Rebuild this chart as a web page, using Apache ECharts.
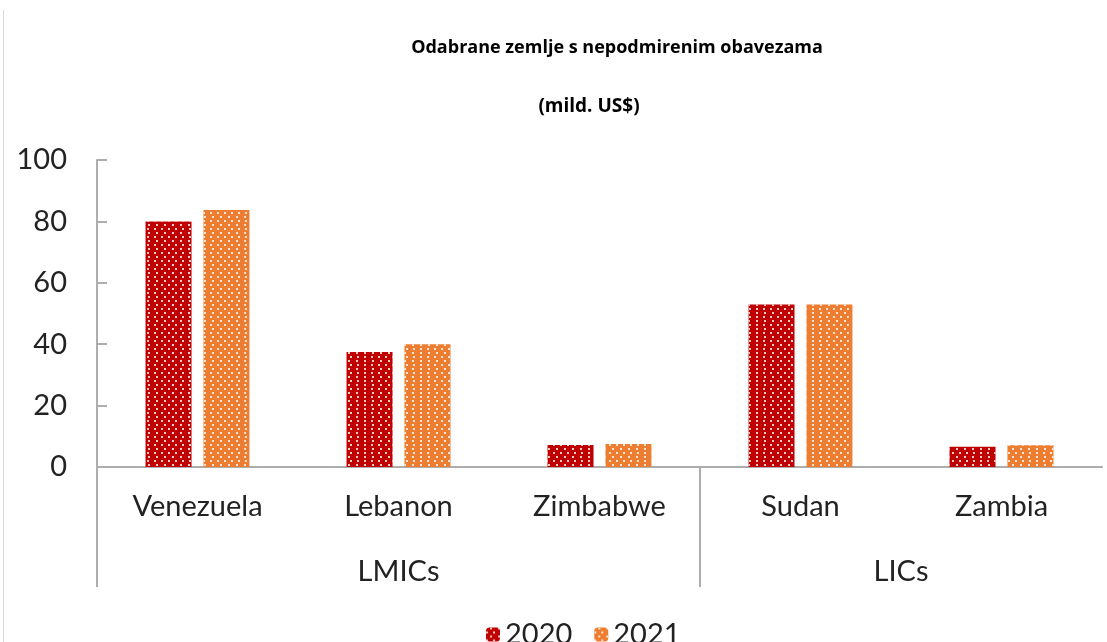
<!DOCTYPE html>
<html>
<head>
<meta charset="utf-8">
<script src="https://cdn.jsdelivr.net/npm/echarts@6/dist/echarts.min.js"></script>
<style>
  html, body { margin: 0; padding: 0; background: #fff; }
  #chart { width: 1107px; height: 642px; }
</style>
</head>
<body>
<div id="chart"></div>
<script>
// Podaci
const countries = ["Venezuela", "Lebanon", "Zimbabwe", "Sudan", "Zambia"];
const values2020 = [80, 37.5, 7.2, 52.9, 6.6];
const values2021 = [83.7, 40, 7.5, 52.9, 7.1];
const groupNames = ["LMICs", "LICs"];
const groupCenters = [1.5, 4];
const groupBounds = [0, 3];
const yTicks = [0, 20, 40, 60, 80, 100];

const font = "Lato, 'Open Sans', sans-serif";
const axisGray = "#adadad";

// Uzorak s tockicama kao u Excelu
function dotted(color) {
  return {
    color,
    decal: {
      symbol: "rect",
      symbolSize: 1,
      dashArrayX: [[2, 5], [0, 3.5, 2, 1.5]],
      dashArrayY: [2, 2],
      color: "rgba(255,255,255,0.8)"
    }
  };
}

const chart = echarts.init(document.getElementById("chart"));

chart.setOption({
  animation: false,
  title: [
    {
      text: "Odabrane zemlje s nepodmirenim obavezama",
      left: 612, top: 34, textAlign: "center",
      textStyle: { fontFamily: "'Open Sans', sans-serif", fontSize: 18, fontWeight: "bold", color: "#000" }
    },
    {
      text: "(mild. US$)",
      left: 584, top: 92, textAlign: "center",
      textStyle: { fontFamily: "'Open Sans', sans-serif", fontSize: 19, fontWeight: "bold", color: "#000" }
    }
  ],
  legend: {
    data: ["2020", "2021"],
    left: 481, top: 615,
    itemWidth: 14, itemHeight: 14, itemGap: 22, itemStyle: { borderWidth: 0 },
    textStyle: { fontFamily: font, fontSize: 29, color: "#222" }
  },
  grid: { left: 97, right: 5, top: 160, bottom: 175 },
  xAxis: [
    {
      type: "category",
      data: countries,
      axisLine: { lineStyle: { color: axisGray, width: 2 } },
      axisTick: { show: false },
      axisLabel: { fontFamily: font, fontSize: 29, color: "#222", margin: 25 }
    },
    {
      type: "value",
      position: "bottom",
      min: 0, max: 5,
      axisLine: { show: false },
      splitLine: { show: false },
      axisTick: {
        show: true, length: 120,
        customValues: groupBounds,
        lineStyle: { color: axisGray, width: 2 }
      },
      axisLabel: {
        customValues: groupCenters,
        formatter: v => groupNames[groupCenters.indexOf(v)] || "",
        fontFamily: font, fontSize: 29, color: "#222", margin: 90
      }
    }
  ],
  yAxis: {
    type: "value",
    min: yTicks[0], max: yTicks[yTicks.length - 1], interval: 20,
    splitLine: { show: false },
    axisLine: { show: true, lineStyle: { color: axisGray, width: 2 } },
    axisTick: { show: true, inside: true, length: 10, lineStyle: { color: axisGray, width: 2 } },
    axisLabel: { fontFamily: font, fontSize: 29, color: "#222", margin: 30 }
  },
  series: [
    {
      name: "2020", type: "bar", data: values2020,
      itemStyle: dotted("#c00000"),
      barWidth: 46, barGap: "26%"
    },
    {
      name: "2021", type: "bar", data: values2021,
      itemStyle: dotted("#ed7d31"),
      barWidth: 46, barGap: "26%"
    }
  ],
  graphic: [
    {
      type: "line",
      shape: { x1: 3.5, y1: 10, x2: 3.5, y2: 642 },
      style: { stroke: "#d9d9d9", lineWidth: 1 }
    }
  ]
});
</script>
</body>
</html>
